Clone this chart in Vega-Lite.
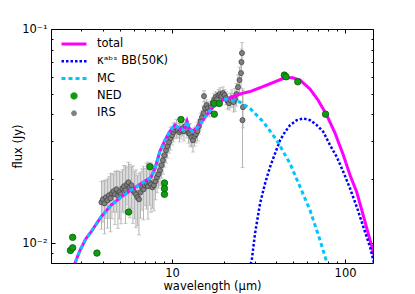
{
  "$schema": "https://vega.github.io/schema/vega-lite/v6.json",
  "width": 322,
  "height": 234,
  "autosize": {"type": "none"},
  "padding": {"left": 51, "top": 29, "right": 42, "bottom": 31},
  "background": "white",
  "config": {
    "view": {"stroke": "black", "strokeWidth": 1},
    "font": "DejaVu Sans",
    "axis": {
      "grid": false, "domain": false,
      "labelFont": "DejaVu Sans", "labelFontSize": 11.5, "labelColor": "black",
      "titleFont": "DejaVu Sans", "titleFontSize": 11.5, "titleFontWeight": "normal", "titleColor": "black",
      "tickColor": "black", "tickWidth": 1, "labelFlush": false, "labelOverlap": false
    }
  },
  "datasets": {
    "irs": [
      {"s": "IRS", "wl": 3.913, "flux": 0.01555, "err": 0.0039},
      {"s": "IRS", "wl": 3.992, "flux": 0.01606, "err": 0.0035},
      {"s": "IRS", "wl": 4.072, "flux": 0.01538, "err": 0.0043},
      {"s": "IRS", "wl": 4.154, "flux": 0.0164, "err": 0.0033},
      {"s": "IRS", "wl": 4.238, "flux": 0.01588, "err": 0.0041},
      {"s": "IRS", "wl": 4.324, "flux": 0.01676, "err": 0.0037},
      {"s": "IRS", "wl": 4.411, "flux": 0.01623, "err": 0.0049},
      {"s": "IRS", "wl": 4.5, "flux": 0.01712, "err": 0.0041},
      {"s": "IRS", "wl": 4.59, "flux": 0.0175, "err": 0.0035},
      {"s": "IRS", "wl": 4.683, "flux": 0.01694, "err": 0.0047},
      {"s": "IRS", "wl": 4.777, "flux": 0.01788, "err": 0.0039},
      {"s": "IRS", "wl": 4.873, "flux": 0.01676, "err": 0.005},
      {"s": "IRS", "wl": 4.972, "flux": 0.01731, "err": 0.0043},
      {"s": "IRS", "wl": 5.072, "flux": 0.01694, "err": 0.0046},
      {"s": "IRS", "wl": 5.175, "flux": 0.01807, "err": 0.004},
      {"s": "IRS", "wl": 5.279, "flux": 0.01847, "err": 0.0046},
      {"s": "IRS", "wl": 5.385, "flux": 0.01769, "err": 0.0053},
      {"s": "IRS", "wl": 5.494, "flux": 0.01887, "err": 0.0038},
      {"s": "IRS", "wl": 5.605, "flux": 0.01928, "err": 0.0046},
      {"s": "IRS", "wl": 5.718, "flux": 0.01827, "err": 0.0051},
      {"s": "IRS", "wl": 5.833, "flux": 0.01867, "err": 0.0041},
      {"s": "IRS", "wl": 5.95, "flux": 0.01769, "err": 0.0053},
      {"s": "IRS", "wl": 6.07, "flux": 0.01731, "err": 0.0043},
      {"s": "IRS", "wl": 6.193, "flux": 0.01694, "err": 0.0051},
      {"s": "IRS", "wl": 6.318, "flux": 0.0164, "err": 0.0043},
      {"s": "IRS", "wl": 6.445, "flux": 0.01606, "err": 0.0051},
      {"s": "IRS", "wl": 6.575, "flux": 0.01731, "err": 0.0042},
      {"s": "IRS", "wl": 6.708, "flux": 0.01827, "err": 0.004},
      {"s": "IRS", "wl": 6.843, "flux": 0.01788, "err": 0.005},
      {"s": "IRS", "wl": 6.981, "flux": 0.01867, "err": 0.0037},
      {"s": "IRS", "wl": 7.122, "flux": 0.01907, "err": 0.0046},
      {"s": "IRS", "wl": 7.265, "flux": 0.01847, "err": 0.0055},
      {"s": "IRS", "wl": 7.412, "flux": 0.01928, "err": 0.0042},
      {"s": "IRS", "wl": 7.561, "flux": 0.01887, "err": 0.0049},
      {"s": "IRS", "wl": 7.714, "flux": 0.01827, "err": 0.0037},
      {"s": "IRS", "wl": 7.869, "flux": 0.01867, "err": 0.0045},
      {"s": "IRS", "wl": 8.028, "flux": 0.01948, "err": 0.0035},
      {"s": "IRS", "wl": 8.19, "flux": 0.02034, "err": 0.0031},
      {"s": "IRS", "wl": 8.355, "flux": 0.02101, "err": 0.0029},
      {"s": "IRS", "wl": 8.524, "flux": 0.02193, "err": 0.0033},
      {"s": "IRS", "wl": 8.695, "flux": 0.02315, "err": 0.003},
      {"s": "IRS", "wl": 8.871, "flux": 0.02442, "err": 0.0034},
      {"s": "IRS", "wl": 9.05, "flux": 0.02578, "err": 0.0031},
      {"s": "IRS", "wl": 9.233, "flux": 0.0272, "err": 0.0035},
      {"s": "IRS", "wl": 9.419, "flux": 0.0284, "err": 0.0034},
      {"s": "IRS", "wl": 9.609, "flux": 0.02965, "err": 0.0033},
      {"s": "IRS", "wl": 9.803, "flux": 0.03095, "err": 0.0037},
      {"s": "IRS", "wl": 10.0, "flux": 0.03196, "err": 0.0032},
      {"s": "IRS", "wl": 10.2, "flux": 0.03301, "err": 0.0033},
      {"s": "IRS", "wl": 10.41, "flux": 0.03373, "err": 0.003},
      {"s": "IRS", "wl": 10.62, "flux": 0.03446, "err": 0.0034},
      {"s": "IRS", "wl": 10.83, "flux": 0.03373, "err": 0.0027},
      {"s": "IRS", "wl": 11.05, "flux": 0.03301, "err": 0.0033},
      {"s": "IRS", "wl": 11.27, "flux": 0.03373, "err": 0.003},
      {"s": "IRS", "wl": 11.5, "flux": 0.03446, "err": 0.0028},
      {"s": "IRS", "wl": 11.73, "flux": 0.03337, "err": 0.0033},
      {"s": "IRS", "wl": 11.97, "flux": 0.03522, "err": 0.0028},
      {"s": "IRS", "wl": 12.21, "flux": 0.0341, "err": 0.0031},
      {"s": "IRS", "wl": 12.46, "flux": 0.03266, "err": 0.0033},
      {"s": "IRS", "wl": 12.71, "flux": 0.03231, "err": 0.0039},
      {"s": "IRS", "wl": 12.96, "flux": 0.03128, "err": 0.0031},
      {"s": "IRS", "wl": 13.22, "flux": 0.03029, "err": 0.0036},
      {"s": "IRS", "wl": 13.49, "flux": 0.03162, "err": 0.0032},
      {"s": "IRS", "wl": 13.76, "flux": 0.03231, "err": 0.0029},
      {"s": "IRS", "wl": 14.04, "flux": 0.03337, "err": 0.0033},
      {"s": "IRS", "wl": 14.32, "flux": 0.03522, "err": 0.0028},
      {"s": "IRS", "wl": 14.61, "flux": 0.03716, "err": 0.0033},
      {"s": "IRS", "wl": 14.91, "flux": 0.0388, "err": 0.0027},
      {"s": "IRS", "wl": 15.21, "flux": 0.0405, "err": 0.0032},
      {"s": "IRS", "wl": 15.31, "flux": 0.04863, "err": 0.0029},
      {"s": "IRS", "wl": 15.51, "flux": 0.04274, "err": 0.003},
      {"s": "IRS", "wl": 15.83, "flux": 0.04414, "err": 0.0026},
      {"s": "IRS", "wl": 16.15, "flux": 0.04274, "err": 0.003},
      {"s": "IRS", "wl": 16.47, "flux": 0.04138, "err": 0.0025},
      {"s": "IRS", "wl": 16.8, "flux": 0.0432, "err": 0.003},
      {"s": "IRS", "wl": 17.14, "flux": 0.0451, "err": 0.0027},
      {"s": "IRS", "wl": 17.49, "flux": 0.04659, "err": 0.0033},
      {"s": "IRS", "wl": 17.84, "flux": 0.04812, "err": 0.0029},
      {"s": "IRS", "wl": 18.2, "flux": 0.04709, "err": 0.0033},
      {"s": "IRS", "wl": 18.57, "flux": 0.04917, "err": 0.003},
      {"s": "IRS", "wl": 18.94, "flux": 0.04969, "err": 0.0035},
      {"s": "IRS", "wl": 19.32, "flux": 0.04863, "err": 0.0029},
      {"s": "IRS", "wl": 19.71, "flux": 0.05022, "err": 0.0035},
      {"s": "IRS", "wl": 20.11, "flux": 0.04917, "err": 0.003},
      {"s": "IRS", "wl": 20.51, "flux": 0.0476, "err": 0.0033},
      {"s": "IRS", "wl": 20.93, "flux": 0.04609, "err": 0.0037},
      {"s": "IRS", "wl": 21.35, "flux": 0.0451, "err": 0.0032},
      {"s": "IRS", "wl": 21.78, "flux": 0.04659, "err": 0.0037},
      {"s": "IRS", "wl": 22.22, "flux": 0.0476, "err": 0.0043},
      {"s": "IRS", "wl": 22.67, "flux": 0.0456, "err": 0.0046},
      {"s": "IRS", "wl": 23.12, "flux": 0.04709, "err": 0.0057},
      {"s": "IRS", "wl": 23.59, "flux": 0.04969, "err": 0.006},
      {"s": "IRS", "wl": 24.07, "flux": 0.05358, "err": 0.0075},
      {"s": "IRS", "wl": 24.55, "flux": 0.05777, "err": 0.0087},
      {"s": "IRS", "wl": 25.05, "flux": 0.06229, "err": 0.0093},
      {"s": "IRS", "wl": 25.2, "flux": 0.07011, "err": 0.0105},
      {"s": "IRS", "wl": 25.38, "flux": 0.07724, "err": 0.0093},
      {"s": "IRS", "wl": 25.55, "flux": 0.03757, "err": 0.015},
      {"s": "IRS", "wl": 25.72, "flux": 0.0432, "err": 0.0086}
    ],
    "lines": [
      {"s": "total", "wl": 2.677, "flux": 0.00764},
      {"s": "total", "wl": 2.939, "flux": 0.00927},
      {"s": "total", "wl": 3.183, "flux": 0.01052},
      {"s": "total", "wl": 3.403, "flux": 0.01129},
      {"s": "total", "wl": 3.887, "flux": 0.01327},
      {"s": "total", "wl": 4.441, "flux": 0.01505},
      {"s": "total", "wl": 5.072, "flux": 0.01645},
      {"s": "total", "wl": 5.794, "flux": 0.01769},
      {"s": "total", "wl": 6.619, "flux": 0.01901},
      {"s": "total", "wl": 7.561, "flux": 0.02034},
      {"s": "total", "wl": 7.974, "flux": 0.02241},
      {"s": "total", "wl": 8.523, "flux": 0.02692},
      {"s": "total", "wl": 9.109, "flux": 0.03029},
      {"s": "total", "wl": 9.736, "flux": 0.03337},
      {"s": "total", "wl": 10.41, "flux": 0.0356},
      {"s": "total", "wl": 11.12, "flux": 0.0341},
      {"s": "total", "wl": 11.73, "flux": 0.03373},
      {"s": "total", "wl": 12.21, "flux": 0.03716},
      {"s": "total", "wl": 12.54, "flux": 0.03447},
      {"s": "total", "wl": 13.05, "flux": 0.03337},
      {"s": "total", "wl": 13.95, "flux": 0.03447},
      {"s": "total", "wl": 15.11, "flux": 0.03757},
      {"s": "total", "wl": 16.15, "flux": 0.0405},
      {"s": "total", "wl": 17.26, "flux": 0.04321},
      {"s": "total", "wl": 18.2, "flux": 0.0456},
      {"s": "total", "wl": 19.45, "flux": 0.04659},
      {"s": "total", "wl": 20.8, "flux": 0.04709},
      {"s": "total", "wl": 22.23, "flux": 0.04812},
      {"s": "total", "wl": 23.76, "flux": 0.04917},
      {"s": "total", "wl": 25.72, "flux": 0.05022},
      {"s": "total", "wl": 28.24, "flux": 0.05105},
      {"s": "total", "wl": 35.27, "flux": 0.05474},
      {"s": "total", "wl": 43.99, "flux": 0.05883},
      {"s": "total", "wl": 49.39, "flux": 0.05935},
      {"s": "total", "wl": 54.95, "flux": 0.05777},
      {"s": "total", "wl": 62.78, "flux": 0.05243},
      {"s": "total", "wl": 69.82, "flux": 0.04659},
      {"s": "total", "wl": 78.38, "flux": 0.03964},
      {"s": "total", "wl": 87.54, "flux": 0.03266},
      {"s": "total", "wl": 97.77, "flux": 0.02578},
      {"s": "total", "wl": 106.9, "flux": 0.02078},
      {"s": "total", "wl": 116.9, "flux": 0.01731},
      {"s": "total", "wl": 128.8, "flux": 0.01308},
      {"s": "total", "wl": 139.5, "flux": 0.01033},
      {"s": "total", "wl": 145.7, "flux": 0.00908},
      {"s": "total", "wl": 151.1, "flux": 0.00815},
      {"s": "BB", "wl": 27.87, "flux": 0.00764},
      {"s": "BB", "wl": 28.89, "flux": 0.00833},
      {"s": "BB", "wl": 30.18, "flux": 0.0111},
      {"s": "BB", "wl": 32.26, "flux": 0.01532},
      {"s": "BB", "wl": 34.48, "flux": 0.01901},
      {"s": "BB", "wl": 36.86, "flux": 0.02272},
      {"s": "BB", "wl": 39.39, "flux": 0.02626},
      {"s": "BB", "wl": 42.1, "flux": 0.03029},
      {"s": "BB", "wl": 45.0, "flux": 0.03312},
      {"s": "BB", "wl": 48.1, "flux": 0.0356},
      {"s": "BB", "wl": 52.58, "flux": 0.03757},
      {"s": "BB", "wl": 57.41, "flux": 0.03826},
      {"s": "BB", "wl": 62.78, "flux": 0.03757},
      {"s": "BB", "wl": 68.63, "flux": 0.0356},
      {"s": "BB", "wl": 74.92, "flux": 0.03312},
      {"s": "BB", "wl": 81.9, "flux": 0.02871},
      {"s": "BB", "wl": 89.54, "flux": 0.02531},
      {"s": "BB", "wl": 97.77, "flux": 0.02154},
      {"s": "BB", "wl": 106.9, "flux": 0.01802},
      {"s": "BB", "wl": 116.9, "flux": 0.01478},
      {"s": "BB", "wl": 127.6, "flux": 0.01192},
      {"s": "BB", "wl": 139.5, "flux": 0.00961},
      {"s": "BB", "wl": 145.7, "flux": 0.00833},
      {"s": "BB", "wl": 151.1, "flux": 0.00748},
      {"s": "MC", "wl": 2.677, "flux": 0.00764},
      {"s": "MC", "wl": 2.939, "flux": 0.00927},
      {"s": "MC", "wl": 3.183, "flux": 0.01052},
      {"s": "MC", "wl": 3.403, "flux": 0.01129},
      {"s": "MC", "wl": 3.887, "flux": 0.01327},
      {"s": "MC", "wl": 4.441, "flux": 0.01505},
      {"s": "MC", "wl": 5.072, "flux": 0.01645},
      {"s": "MC", "wl": 5.794, "flux": 0.01769},
      {"s": "MC", "wl": 6.619, "flux": 0.01901},
      {"s": "MC", "wl": 7.561, "flux": 0.02034},
      {"s": "MC", "wl": 7.974, "flux": 0.02241},
      {"s": "MC", "wl": 8.523, "flux": 0.02692},
      {"s": "MC", "wl": 9.109, "flux": 0.03029},
      {"s": "MC", "wl": 9.736, "flux": 0.03337},
      {"s": "MC", "wl": 10.41, "flux": 0.0356},
      {"s": "MC", "wl": 11.12, "flux": 0.0341},
      {"s": "MC", "wl": 11.73, "flux": 0.03373},
      {"s": "MC", "wl": 12.21, "flux": 0.03716},
      {"s": "MC", "wl": 12.54, "flux": 0.03447},
      {"s": "MC", "wl": 13.05, "flux": 0.03337},
      {"s": "MC", "wl": 13.95, "flux": 0.03447},
      {"s": "MC", "wl": 15.11, "flux": 0.03757},
      {"s": "MC", "wl": 16.15, "flux": 0.0405},
      {"s": "MC", "wl": 17.26, "flux": 0.04321},
      {"s": "MC", "wl": 18.2, "flux": 0.0456},
      {"s": "MC", "wl": 19.45, "flux": 0.04659},
      {"s": "MC", "wl": 20.8, "flux": 0.04709},
      {"s": "MC", "wl": 22.23, "flux": 0.04634},
      {"s": "MC", "wl": 24.72, "flux": 0.0456},
      {"s": "MC", "wl": 28.24, "flux": 0.04261},
      {"s": "MC", "wl": 33.71, "flux": 0.03688},
      {"s": "MC", "wl": 40.29, "flux": 0.03029},
      {"s": "MC", "wl": 48.1, "flux": 0.02357},
      {"s": "MC", "wl": 54.95, "flux": 0.01833},
      {"s": "MC", "wl": 62.78, "flux": 0.01426},
      {"s": "MC", "wl": 71.72, "flux": 0.01033},
      {"s": "MC", "wl": 78.71, "flux": 0.008065},
      {"s": "MC", "wl": 81.9, "flux": 0.00732}
    ],
    "ned": [
      {"s": "NED", "wl": 2.59, "flux": 0.00927},
      {"s": "NED", "wl": 2.667, "flux": 0.00953},
      {"s": "NED", "wl": 2.667, "flux": 0.01067},
      {"s": "NED", "wl": 3.685, "flux": 0.00901},
      {"s": "NED", "wl": 5.619, "flux": 0.01401},
      {"s": "NED", "wl": 7.461, "flux": 0.02278},
      {"s": "NED", "wl": 9.047, "flux": 0.01913},
      {"s": "NED", "wl": 9.047, "flux": 0.01802},
      {"s": "NED", "wl": 9.047, "flux": 0.01694},
      {"s": "NED", "wl": 11.27, "flux": 0.03784},
      {"s": "NED", "wl": 17.56, "flux": 0.04497},
      {"s": "NED", "wl": 18.77, "flux": 0.04497},
      {"s": "NED", "wl": 17.56, "flux": 0.04007},
      {"s": "NED", "wl": 44.58, "flux": 0.06095},
      {"s": "NED", "wl": 45.6, "flux": 0.05986},
      {"s": "NED", "wl": 53.29, "flux": 0.05672},
      {"s": "NED", "wl": 77.15, "flux": 0.04007}
    ]
  },
  "resolve": {"axis": {"x": "independent", "y": "independent"}},
  "layer": [
    {
      "data": {"name": "irs"},
      "mark": {"type": "errorbar", "color": "#b3b3b3", "thickness": 1, "ticks": {"size": 4, "color": "#b3b3b3"}, "clip": true},
      "encoding": {
        "x": {"field": "wl", "type": "quantitative", "scale": {"type": "log", "domain": [2, 145], "nice": false}, "axis": null},
        "y": {"field": "flux", "type": "quantitative", "scale": {"type": "log", "domain": [0.0081, 0.1], "nice": false}, "axis": null},
        "yError": {"field": "err"}
      }
    },
    {
      "data": {"name": "irs"},
      "mark": {"type": "point", "filled": true, "stroke": "#3c3c3c", "opacity": 1, "clip": true},
      "encoding": {
        "x": {"field": "wl", "type": "quantitative", "scale": {"type": "log", "domain": [2, 145], "nice": false},
          "axis": {"orient": "bottom", "title": "wavelength (μm)", "values": [2,3,4,5,6,7,8,9,10,20,30,40,50,60,70,80,90,100],
            "labelExpr": "datum.value == 10 ? '10' : datum.value == 100 ? '100' : ''",
            "tickSize": {"condition": {"test": "datum.value == 10 || datum.value == 100", "value": -4}, "value": -2},
            "labelPadding": 8, "titlePadding": 0}},
        "y": {"field": "flux", "type": "quantitative", "scale": {"type": "log", "domain": [0.0081, 0.1], "nice": false},
          "axis": {"orient": "left", "title": "flux (Jy)", "values": [0.009,0.01,0.02,0.03,0.04,0.05,0.06,0.07,0.08,0.09,0.1],
            "labelExpr": "datum.value == 0.1 ? '10⁻¹' : datum.value == 0.01 ? '10⁻²' : ''",
            "tickSize": {"condition": {"test": "datum.value == 0.01 || datum.value == 0.1", "value": -4}, "value": -2},
            "labelPadding": 8, "titlePadding": -2}},
        "color": {"field": "s", "type": "nominal", "scale": {"domain": ["total","BB","MC","NED","IRS"], "range": ["#ff00ff","#0000ff","#00c5ff","#109c10","#808080"]},
          "legend": {"orient": "none", "legendX": 9, "legendY": 8.5, "title": null, "padding": 0,
            "labelFont": "DejaVu Sans", "labelFontSize": 11.5, "labelColor": "black", "labelOffset": 9, "rowPadding": 4.3, "clipHeight": 13,
            "symbolOpacity": 1,
            "labelExpr": "datum.value == 'BB' ? 'κᵃᵇˢ BB(50K)' : datum.value"}},
        "shape": {"field": "s", "type": "nominal", "scale": {"domain": ["total","BB","MC","NED","IRS"], "range": ["stroke","stroke","stroke","circle","circle"]}},
        "size": {"field": "s", "type": "nominal", "scale": {"type": "ordinal", "domain": ["total","BB","MC","NED","IRS"], "range": [625,625,625,42,26]}},
        "strokeWidth": {"field": "s", "type": "nominal", "scale": {"type": "ordinal", "domain": ["total","BB","MC","NED","IRS"], "range": [3,2.5,3,0.8,0.7]}}
      }
    },
    {
      "data": {"name": "lines"},
      "transform": [{"filter": "datum.s == 'total'"}],
      "mark": {"type": "line", "clip": true},
      "encoding": {
        "x": {"field": "wl", "type": "quantitative", "scale": {"type": "log", "domain": [2, 145], "nice": false},
          "axis": {"orient": "top", "title": null, "labels": false, "values": [2,3,4,5,6,7,8,9,10,20,30,40,50,60,70,80,90,100],
            "tickSize": {"condition": {"test": "datum.value == 10 || datum.value == 100", "value": -4}, "value": -2}}},
        "y": {"field": "flux", "type": "quantitative", "scale": {"type": "log", "domain": [0.0081, 0.1], "nice": false},
          "axis": {"orient": "right", "title": null, "labels": false, "values": [0.009,0.01,0.02,0.03,0.04,0.05,0.06,0.07,0.08,0.09,0.1],
            "tickSize": {"condition": {"test": "datum.value == 0.01 || datum.value == 0.1", "value": -4}, "value": -2}}},
        "color": {"field": "s", "type": "nominal", "scale": {"domain": ["total","BB","MC","NED","IRS"], "range": ["#ff00ff","#0000ff","#00c5ff","#109c10","#808080"]}},
        "strokeDash": {"field": "s", "type": "nominal", "scale": {"domain": ["total","BB","MC","NED","IRS"], "range": [[1,0],[2.5,2],[4,3],[1,0],[1,0]]}},
        "strokeWidth": {"field": "s", "type": "nominal", "scale": {"type": "ordinal", "domain": ["total","BB","MC","NED","IRS"], "range": [3,2.5,3,0.8,0.7]}},
        "order": {"field": "wl", "type": "quantitative"}
      }
    },
    {
      "data": {"name": "lines"},
      "transform": [{"filter": "datum.s == 'BB'"}],
      "mark": {"type": "line", "clip": true},
      "encoding": {
        "x": {"field": "wl", "type": "quantitative", "axis": null},
        "y": {"field": "flux", "type": "quantitative", "axis": null},
        "color": {"field": "s", "type": "nominal", "scale": {"domain": ["total","BB","MC","NED","IRS"], "range": ["#ff00ff","#0000ff","#00c5ff","#109c10","#808080"]}},
        "strokeDash": {"field": "s", "type": "nominal", "scale": {"domain": ["total","BB","MC","NED","IRS"], "range": [[1,0],[2.5,2],[4,3],[1,0],[1,0]]}},
        "strokeWidth": {"field": "s", "type": "nominal", "scale": {"type": "ordinal", "domain": ["total","BB","MC","NED","IRS"], "range": [3,2.5,3,0.8,0.7]}},
        "order": {"field": "wl", "type": "quantitative"}
      }
    },
    {
      "data": {"name": "lines"},
      "transform": [{"filter": "datum.s == 'MC'"}],
      "mark": {"type": "line", "clip": true},
      "encoding": {
        "x": {"field": "wl", "type": "quantitative", "axis": null},
        "y": {"field": "flux", "type": "quantitative", "axis": null},
        "color": {"field": "s", "type": "nominal", "scale": {"domain": ["total","BB","MC","NED","IRS"], "range": ["#ff00ff","#0000ff","#00c5ff","#109c10","#808080"]}},
        "strokeDash": {"field": "s", "type": "nominal", "scale": {"domain": ["total","BB","MC","NED","IRS"], "range": [[1,0],[2.5,2],[4,3],[1,0],[1,0]]}},
        "strokeWidth": {"field": "s", "type": "nominal", "scale": {"type": "ordinal", "domain": ["total","BB","MC","NED","IRS"], "range": [3,2.5,3,0.8,0.7]}},
        "order": {"field": "wl", "type": "quantitative"}
      }
    },
    {
      "data": {"name": "ned"},
      "mark": {"type": "point", "filled": true, "stroke": "#0a5a0a", "opacity": 1, "clip": true},
      "encoding": {
        "x": {"field": "wl", "type": "quantitative", "axis": null},
        "y": {"field": "flux", "type": "quantitative", "axis": null},
        "color": {"field": "s", "type": "nominal", "scale": {"domain": ["total","BB","MC","NED","IRS"], "range": ["#ff00ff","#0000ff","#00c5ff","#109c10","#808080"]}},
        "shape": {"field": "s", "type": "nominal", "scale": {"domain": ["total","BB","MC","NED","IRS"], "range": ["stroke","stroke","stroke","circle","circle"]}},
        "size": {"field": "s", "type": "nominal", "scale": {"type": "ordinal", "domain": ["total","BB","MC","NED","IRS"], "range": [625,625,625,42,26]}},
        "strokeWidth": {"field": "s", "type": "nominal", "scale": {"type": "ordinal", "domain": ["total","BB","MC","NED","IRS"], "range": [3,2.5,3,0.8,0.7]}}
      }
    }
  ]
}
